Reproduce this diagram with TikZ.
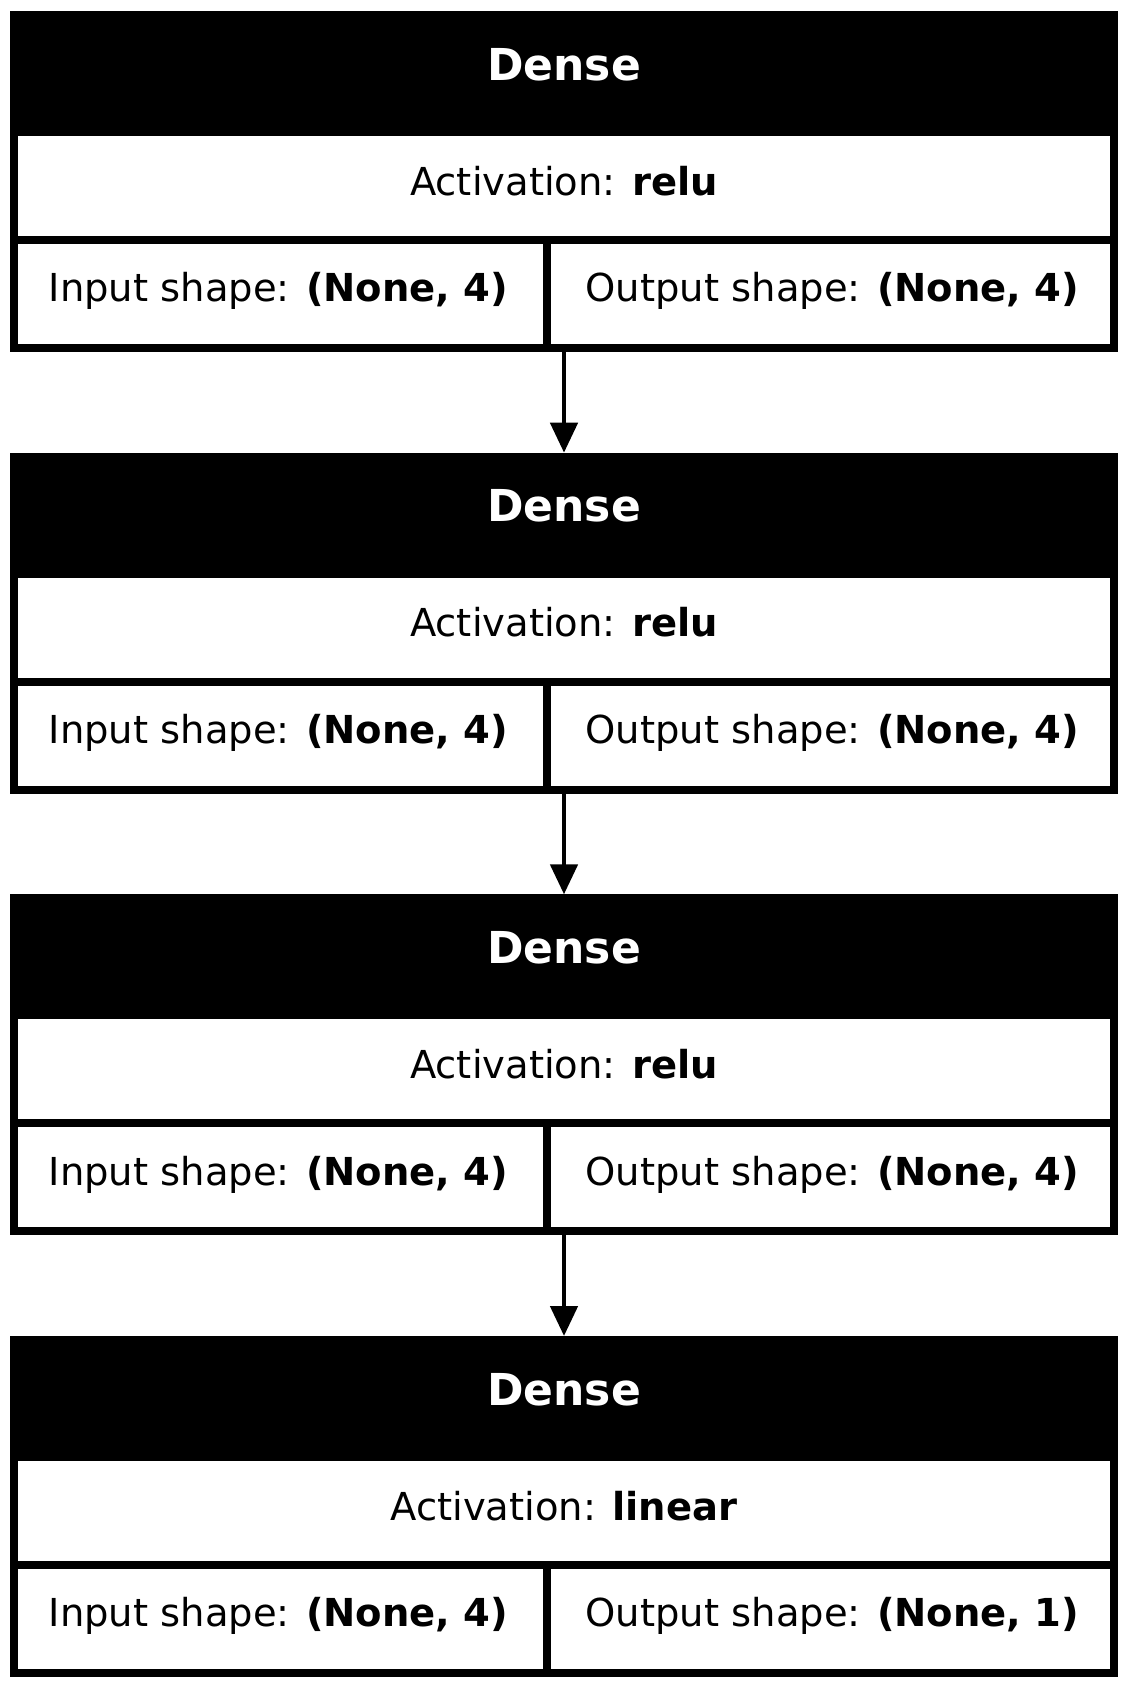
\documentclass[tikz,border=0pt]{standalone}
\usepackage{fontspec}
\setmainfont{DejaVu Sans}
\usetikzlibrary{arrows.meta}

\begin{document}
\begin{tikzpicture}[x=1pt, y=-1pt,
    every node/.style={inner sep=0pt, font=\fontsize{38.5}{46}\selectfont},
    cell/.style={anchor=base},
    title/.style={anchor=base, text=white, font=\fontsize{44}{52}\selectfont\bfseries},
    header/.style={rectangle, fill=black, minimum width=1108pt, minimum height=125pt},
    frame/.style={rectangle, draw=black, line width=8pt, minimum width=1100pt, minimum height=333pt},
    rule/.style={line width=8pt, black},
    flow/.style={line width=4.7pt, -{Triangle[length=30pt, width=27pt]}}]
    \useasboundingbox (0,0) rectangle (1128,1689);

    % Lapisan 1
    \node[header] (h1) at (564, 73.5) {};
    \node[title] (t1) at (564, 80) {Dense};
    \node[cell] (a1) at (564, 195) {Activation: \textbf{relu}};
    \node[cell] (i1) at (278.5, 301.7) {Input shape: \textbf{(None, 4)}};
    \node[cell] (o1) at (832.5, 301.7) {Output shape: \textbf{(None, 4)}};
    \node[frame] (d1) at (564, 181.5) {};
    \draw[rule] (14, 240) -- (1114, 240);
    \draw[rule] (547, 240) -- (547, 348);

    % Lapisan 2
    \node[header] (h2) at (564, 515.17) {};
    \node[title] (t2) at (564, 521.67) {Dense};
    \node[cell] (a2) at (564, 636.67) {Activation: \textbf{relu}};
    \node[cell] (i2) at (278.5, 743.37) {Input shape: \textbf{(None, 4)}};
    \node[cell] (o2) at (832.5, 743.37) {Output shape: \textbf{(None, 4)}};
    \node[frame] (d2) at (564, 623.17) {};
    \draw[rule] (14, 681.67) -- (1114, 681.67);
    \draw[rule] (547, 681.67) -- (547, 789.67);

    % Lapisan 3
    \node[header] (h3) at (564, 956.83) {};
    \node[title] (t3) at (564, 963.33) {Dense};
    \node[cell] (a3) at (564, 1078.33) {Activation: \textbf{relu}};
    \node[cell] (i3) at (278.5, 1185.03) {Input shape: \textbf{(None, 4)}};
    \node[cell] (o3) at (832.5, 1185.03) {Output shape: \textbf{(None, 4)}};
    \node[frame] (d3) at (564, 1064.83) {};
    \draw[rule] (14, 1123.33) -- (1114, 1123.33);
    \draw[rule] (547, 1123.33) -- (547, 1231.33);

    % Lapisan 4 (keluaran)
    \node[header] (h4) at (564, 1398.5) {};
    \node[title] (t4) at (564, 1405) {Dense};
    \node[cell] (a4) at (564, 1520) {Activation: \textbf{linear}};
    \node[cell] (i4) at (278.5, 1626.7) {Input shape: \textbf{(None, 4)}};
    \node[cell] (o4) at (832.5, 1626.7) {Output shape: \textbf{(None, 1)}};
    \node[frame] (d4) at (564, 1506.5) {};
    \draw[rule] (14, 1565) -- (1114, 1565);
    \draw[rule] (547, 1565) -- (547, 1673);

    % Panah antar lapisan
    \draw[flow] (d1.south) -- (d2.north);
    \draw[flow] (d2.south) -- (d3.north);
    \draw[flow] (d3.south) -- (d4.north);
\end{tikzpicture}
\end{document}
